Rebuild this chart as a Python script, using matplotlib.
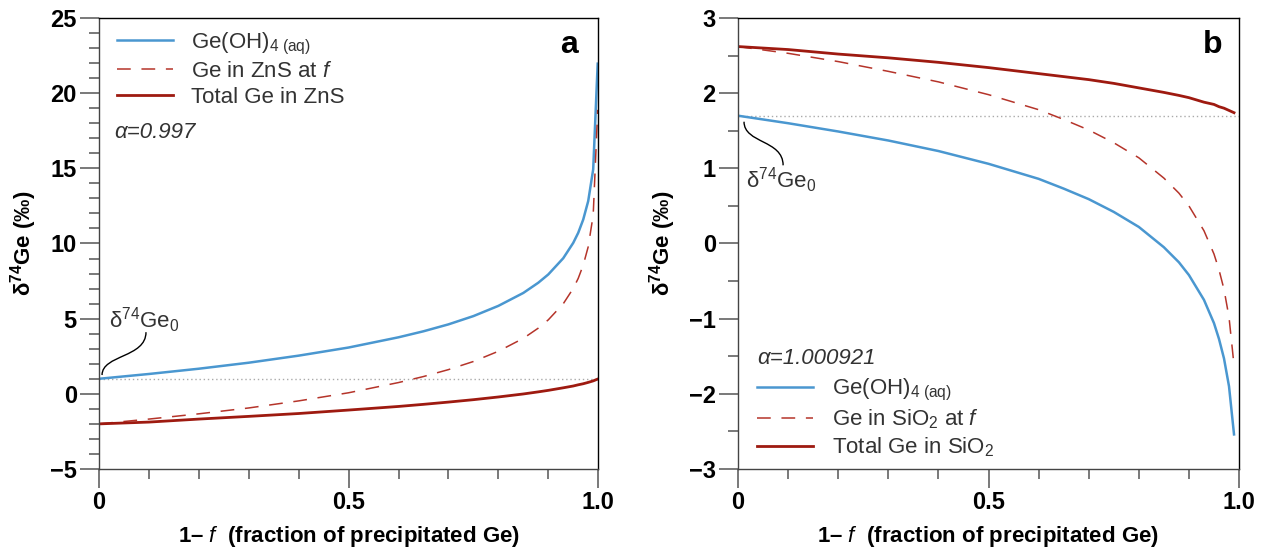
import numpy as np
import matplotlib
matplotlib.use("Agg")
import matplotlib.pyplot as plt
from matplotlib.path import Path
from matplotlib.patches import PathPatch
from matplotlib.ticker import MultipleLocator

plt.rcParams['font.family'] = ['Liberation Sans', 'DejaVu Sans']
plt.rcParams['mathtext.fontset'] = 'custom'
plt.rcParams['mathtext.rm'] = 'Liberation Sans'
plt.rcParams['mathtext.it'] = 'Liberation Sans:italic'
plt.rcParams['mathtext.bf'] = 'Liberation Sans:bold'

# panel a: ZnS, alpha = 0.997
x_a = [0, 0.1, 0.2, 0.3, 0.4, 0.5, 0.6, 0.65, 0.7, 0.75, 0.8, 0.85, 0.88,
       0.9, 0.93, 0.95, 0.96, 0.97, 0.98, 0.99, 0.999]
fluid_a = [1.00, 1.32, 1.67, 2.07, 2.54, 3.08, 3.76, 4.16, 4.62, 5.17, 5.85,
           6.71, 7.39, 7.94, 9.02, 10.04, 10.71, 11.59, 12.82, 14.93, 21.96]
inst_a = [-2.00, -1.68, -1.33, -0.94, -0.47, 0.07, 0.75, 1.15, 1.61, 2.15, 2.83,
          3.69, 4.37, 4.92, 5.99, 7.01, 7.68, 8.56, 9.78, 11.89, 18.89]
total_a = [-2.00, -1.88, -1.68, -1.50, -1.31, -1.08, -0.84, -0.70, -0.55, -0.39,
           -0.21, -0.01, 0.13, 0.23, 0.40, 0.52, 0.60, 0.67, 0.76, 0.86, 0.98]
d0_a = 1.0

# panel b: SiO2, alpha = 1.000921
x_b = [0, 0.1, 0.2, 0.3, 0.4, 0.5, 0.6, 0.65, 0.7, 0.75, 0.8, 0.85, 0.88,
       0.9, 0.93, 0.95, 0.96, 0.97, 0.98, 0.99]
fluid_b = [1.70, 1.60, 1.49, 1.37, 1.23, 1.06, 0.86, 0.73, 0.59, 0.42, 0.22,
           -0.05, -0.25, -0.42, -0.75, -1.06, -1.27, -1.53, -1.90, -2.54]
inst_b = [2.62, 2.53, 2.42, 2.29, 2.15, 1.98, 1.78, 1.65, 1.51, 1.34, 1.14,
          0.87, 0.67, 0.50, 0.17, -0.14, -0.35, -0.61, -0.98, -1.62]
total_b = [2.62, 2.58, 2.52, 2.47, 2.41, 2.34, 2.26, 2.22, 2.18, 2.13, 2.07,
           2.01, 1.97, 1.94, 1.88, 1.85, 1.82, 1.80, 1.77, 1.74]
d0_b = 1.7

BLUE = '#4a97d0'
DKRED = '#9e1a10'
RED = '#b5342a'
TXT = '#333333'
FS = 16     # legend / annotations
FT = 17     # tick labels

fig = plt.figure(figsize=(12.62, 5.5), dpi=100)
ax_a = fig.add_axes([0.0785, 0.1473, 0.3955, 0.82])
ax_b = fig.add_axes([0.5848, 0.1473, 0.3970, 0.82])


def style_axes(ax, ylim, ymaj, ymin):
    ax.set_xlim(0, 1.0)
    ax.set_ylim(*ylim)
    ax.xaxis.set_major_locator(MultipleLocator(0.5))
    ax.xaxis.set_minor_locator(MultipleLocator(0.1))
    ax.yaxis.set_major_locator(MultipleLocator(ymaj))
    ax.yaxis.set_minor_locator(MultipleLocator(ymin))
    ax.tick_params(which='major', direction='out', length=14, width=1.1,
                   color='#555555', labelsize=FT, pad=2)
    ax.tick_params(which='minor', direction='out', length=7, width=1.1,
                   color='#555555')
    ax.tick_params(top=False, right=False)
    ax.xaxis.set_major_formatter(plt.FuncFormatter(
        lambda v, p: '0' if v == 0 else ('%.1f' % v)))
    ax.yaxis.set_major_formatter(plt.FuncFormatter(
        lambda v, p: ('%g' % v).replace('-', '\u2212')))
    for lab in ax.get_xticklabels() + ax.get_yticklabels():
        lab.set_fontweight('bold')
    for s in ax.spines.values():
        s.set_linewidth(1.0)
    ax.spines['left'].set_color('#444444')
    ax.spines['bottom'].set_color('#444444')
    ax.set_xlabel('1\u2013 $\\mathit{f}$  (fraction of precipitated Ge)',
                  fontsize=FS, fontweight='bold', labelpad=7)
    ax.set_ylabel('\u03b4$^{\\mathbf{74}}$Ge (\u2030)', fontsize=FS,
                  fontweight='bold', labelpad=8)


def connector(ax, pts):
    codes = [Path.MOVETO, Path.CURVE4, Path.CURVE4, Path.CURVE4]
    ax.add_patch(PathPatch(Path(pts, codes), fill=False, lw=1.0,
                           color='black', clip_on=False))


def bold_ticks(ax):
    for lab in ax.get_xticklabels() + ax.get_yticklabels():
        lab.set_fontweight('bold')


# ---- panel a
style_axes(ax_a, (-5, 25), 5, 1)
ax_a.axhline(d0_a, color='#aaaaaa', lw=1.0, ls=(0, (1, 2)), zorder=1)
ax_a.plot(x_a, fluid_a, color=BLUE, lw=1.8, label='Ge(OH)$_{\\mathrm{4\\ (aq)}}$')
ax_a.plot(x_a, inst_a, color=RED, lw=1.1, ls=(0, (9, 7)),
          label='Ge in ZnS at $\\mathit{f}$')
ax_a.plot(x_a, total_a, color=DKRED, lw=2.0, label='Total Ge in ZnS')
leg = ax_a.legend(loc='upper left', bbox_to_anchor=(0.036, 0.972), frameon=False,
                  fontsize=FS, handlelength=2.5, handletextpad=0.85,
                  labelspacing=0.2, borderpad=0, borderaxespad=0)
for t in leg.get_texts():
    t.set_color(TXT)
ax_a.text(0.03, 17.4, '\u03b1=0.997', fontsize=FS, style='italic', color=TXT,
          va='center', ha='left')
ax_a.text(0.942, 0.94, 'a', transform=ax_a.transAxes, fontsize=23,
          fontweight='bold', ha='center', va='center')
ax_a.text(0.02, 4.4, '\u03b4$^{74}$Ge$_0$', fontsize=FS, color=TXT,
          ha='left', va='baseline')
connector(ax_a, [(0.006, 1.25), (0.006, 2.6), (0.094, 2.4), (0.094, 4.1)])
bold_ticks(ax_a)

# ---- panel b
style_axes(ax_b, (-3, 3), 1, 0.5)
ax_b.axhline(d0_b, color='#aaaaaa', lw=1.0, ls=(0, (1, 2)), zorder=1)
ax_b.plot(x_b, fluid_b, color=BLUE, lw=1.8, label='Ge(OH)$_{\\mathrm{4\\ (aq)}}$')
ax_b.plot(x_b, inst_b, color=RED, lw=1.1, ls=(0, (9, 7)),
          label='Ge in SiO$_2$ at $\\mathit{f}$')
ax_b.plot(x_b, total_b, color=DKRED, lw=2.0, label='Total Ge in SiO$_2$')
leg = ax_b.legend(loc='lower left', bbox_to_anchor=(0.038, 0.022), frameon=False,
                  fontsize=FS, handlelength=2.5, handletextpad=0.85,
                  labelspacing=0.2, borderpad=0, borderaxespad=0)
for t in leg.get_texts():
    t.set_color(TXT)
ax_b.text(0.038, -1.53, '\u03b1=1.000921', fontsize=FS, style='italic',
          color=TXT, va='center', ha='left')
ax_b.text(0.948, 0.94, 'b', transform=ax_b.transAxes, fontsize=23,
          fontweight='bold', ha='center', va='center')
ax_b.text(0.016, 0.74, '\u03b4$^{74}$Ge$_0$', fontsize=FS, color=TXT,
          ha='left', va='baseline')
connector(ax_b, [(0.012, 1.62), (0.012, 1.33), (0.09, 1.38), (0.09, 1.04)])
bold_ticks(ax_b)

fig.savefig('out.png', dpi=100)
